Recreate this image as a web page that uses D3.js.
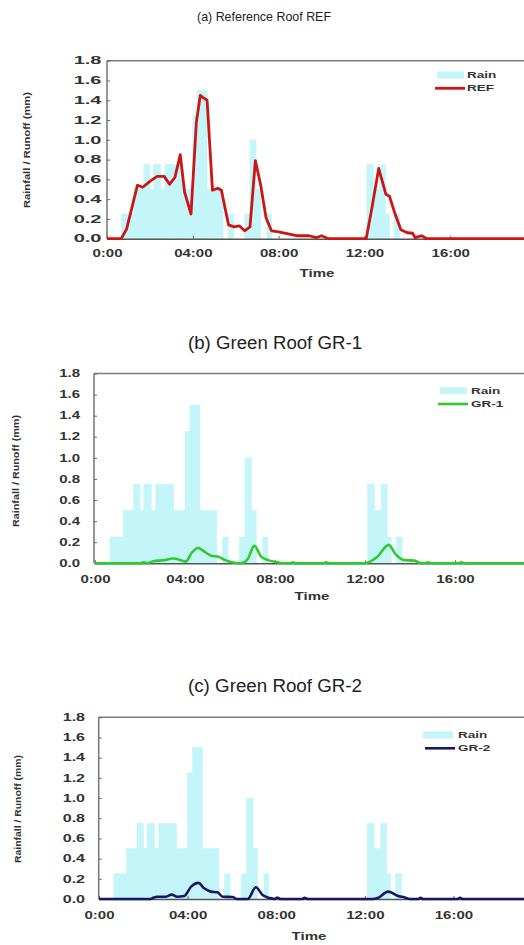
<!DOCTYPE html>
<html><head><meta charset="utf-8">
<script src="https://cdn.jsdelivr.net/npm/d3@7"></script>
<style>html,body{margin:0;padding:0;background:#fff;overflow:hidden;} svg{display:block;}</style>
</head><body>
<svg id="chart" width="524" height="945"></svg>
<script>
// ---------------- DATA ----------------
const tickMinutes = [0, 240, 480, 720, 960];
const tickLabels = ["0:00", "04:00", "08:00", "12:00", "16:00"];
const yTickValues = [0, 0.2, 0.4, 0.6, 0.8, 1.0, 1.2, 1.4, 1.6, 1.8];
const panelTitles = ["(a) Reference Roof REF", "(b) Green Roof GR-1", "(c) Green Roof GR-2"];
const seriesNames = ["REF", "GR-1", "GR-2"];
const axisTitleX = "Time";
const axisTitleY = "Rainfall / Runoff (mm)";
const rainName = "Rain";

// Rainfall as step levels: level rainStepVal[i] holds from rainStepMin[i] to rainStepMin[i+1]
const rainStepMin = [0, 40, 75, 103, 120, 130, 150, 162, 210, 240, 253, 280, 325, 340, 355, 385, 400, 417, 430, 447, 460, 727, 745, 763, 779, 790, 803, 819];
const rainStepVal = [0, 0.25, 0.5, 0.75, 0.5, 0.75, 0.5, 0.75, 0.5, 1.25, 1.5, 0.5, 0, 0.25, 0, 0.25, 1.0, 0.5, 0, 0.25, 0, 0.75, 0.5, 0.75, 0.25, 0, 0.25, 0];

// Runoff series (time in minutes, value in mm)
const refMin = [0, 40, 55, 85, 100, 120, 140, 160, 175, 190, 205, 217, 235, 250, 261, 268, 280, 295, 310, 320, 340, 355, 370, 385, 400, 415, 430, 445, 460, 480, 500, 530, 565, 585, 600, 620, 725, 740, 760, 780, 790, 805, 822, 840, 855, 862, 880, 895, 1200];
const refVal = [0, 0, 0.1, 0.54, 0.52, 0.58, 0.63, 0.63, 0.55, 0.62, 0.85, 0.47, 0.25, 1.18, 1.45, 1.43, 1.4, 0.49, 0.51, 0.49, 0.14, 0.12, 0.13, 0.08, 0.12, 0.79, 0.54, 0.21, 0.08, 0.07, 0.055, 0.03, 0.03, 0.01, 0.03, 0, 0, 0.29, 0.71, 0.45, 0.43, 0.26, 0.09, 0.06, 0.055, 0.01, 0.03, 0, 0];

const gr1Min = [0, 120, 130, 140, 155, 185, 207, 229, 242, 258, 275, 292, 310, 329, 347, 371, 389, 407, 425, 443, 461, 487, 500, 520, 527, 535, 610, 616, 625, 718, 753, 783, 803, 825, 851, 865, 880, 887, 895, 970, 976, 985, 1200];
const gr1Val = [0, 0, 0.01, 0, 0.02, 0.03, 0.045, 0.03, 0.015, 0.10, 0.145, 0.11, 0.072, 0.063, 0.03, 0.005, 0, 0.04, 0.165, 0.063, 0.03, 0.01, 0, 0, 0.01, 0, 0, 0.01, 0, 0, 0.063, 0.175, 0.08, 0.03, 0.025, 0.005, 0, 0.01, 0, 0, 0.01, 0, 0];

const gr2Min = [0, 140, 147, 158, 181, 197, 212, 231, 249, 269, 285, 303, 321, 335, 362, 373, 403, 425, 443, 462, 475, 484, 492, 550, 557, 565, 740, 755, 783, 810, 828, 842, 865, 871, 878, 972, 978, 985, 1200];
const gr2Val = [0, 0, 0.013, 0.023, 0.023, 0.043, 0.023, 0.03, 0.12, 0.16, 0.106, 0.073, 0.066, 0.023, 0.02, 0, 0, 0.116, 0.04, 0.01, 0, 0.013, 0, 0, 0.013, 0, 0, 0.01, 0.073, 0.03, 0.016, 0, 0, 0.013, 0, 0, 0.013, 0, 0];

const xDomainMin = [0, 1200];
const yDomain = [0, 1.8];

// ---------------- LAYOUT / STYLE ----------------
const rainColor = "#c4f6f9";
const seriesColors = ["#cc1616", "#2ecb2e", "#17176a"];
const seriesWidths = [2.8, 2.6, 2.6];
const seriesCurves = [d3.curveLinear, d3.curveMonotoneX, d3.curveMonotoneX];
const seriesData = [[refMin, refVal], [gr1Min, gr1Val], [gr2Min, gr2Val]];

const panels = [
  {left:107, x0:107, pxh:21.45, top:60.7, bottom:238.7, titleX:264, titleY:21, titleSize:12.8, titleLen:134,
   yPad:5.5, yStretch:2.0, yTitleX:27, yTitleY:150, yTitleLen:116, tickY:257.5, timeX:317, timeY:277,
   lg:{swX:437, swY:71.5, swW:27, swH:7, textX:467, rainY:75, lineY:88.3, lx1:435, lx2:465}},
  {left:94, x0:95, pxh:22.5, top:373.5, bottom:563.3, titleX:275, titleY:348.5, titleSize:17.5, titleLen:174,
   yPad:14, yStretch:1.5, yTitleX:16, yTitleY:471, yTitleLen:112, tickY:583, timeX:312, timeY:600,
   lg:{swX:440, swY:387.3, swW:27, swH:7, textX:471, rainY:390.7, lineY:404, lx1:438, lx2:468}},
  {left:98.7, x0:99, pxh:22.15, top:717.3, bottom:899, titleX:275, titleY:692, titleSize:17.5, titleLen:174,
   yPad:13.7, yStretch:1.6, yTitleX:18.5, yTitleY:809, yTitleLen:108, tickY:918.5, timeX:309, timeY:940,
   lg:{swX:423, swY:731.5, swW:30, swH:7, textX:458, rainY:735, lineY:748.3, lx1:425, lx2:455}}
];

const svg = d3.select("#chart");
const FONT = "'Liberation Sans', Arial, sans-serif";

function stretch(sel, factor) {
  sel.each(function() {
    const w = this.getComputedTextLength();
    d3.select(this).attr("textLength", w * factor).attr("lengthAdjust", "spacingAndGlyphs");
  });
}
function fitTo(sel, len) {
  sel.attr("textLength", len).attr("lengthAdjust", "spacingAndGlyphs");
}

panels.forEach((p, i) => {
  const g = svg.append("g");
  const x = d3.scaleLinear().domain(xDomainMin).range([p.x0, p.x0 + 20 * p.pxh]);
  const y = d3.scaleLinear().domain(yDomain).range([p.bottom, p.top]);
  const right = x(xDomainMin[1]);

  // Title
  g.append("text").attr("x", p.titleX).attr("y", p.titleY).attr("text-anchor", "middle")
    .attr("font-family", FONT).attr("font-size", p.titleSize).attr("fill", "#222")
    .text(panelTitles[i]).call(fitTo, p.titleLen);

  // Rain bars
  const rainBars = rainStepMin.map((t, k) => ({t0: t, t1: k < rainStepMin.length - 1 ? rainStepMin[k + 1] : t, v: rainStepVal[k]}))
    .filter(d => d.v > 0);
  g.append("g").selectAll("rect").data(rainBars).join("rect")
    .attr("x", d => x(d.t0)).attr("width", d => x(d.t1) - x(d.t0))
    .attr("y", d => y(d.v)).attr("height", d => y(0) - y(d.v))
    .attr("fill", rainColor).attr("stroke", rainColor).attr("stroke-width", 0.6);

  // Frame
  g.append("line").attr("x1", p.left).attr("x2", right).attr("y1", p.top).attr("y2", p.top)
    .attr("stroke", "#7d7d7d").attr("stroke-width", 1.6);
  g.append("line").attr("x1", p.left).attr("x2", p.left).attr("y1", p.top).attr("y2", p.bottom)
    .attr("stroke", "#7d7d7d").attr("stroke-width", 1.6);
  g.append("line").attr("x1", right).attr("x2", right).attr("y1", p.top).attr("y2", p.bottom)
    .attr("stroke", "#7d7d7d").attr("stroke-width", 1.6);

  // Y axis
  const yAxis = d3.axisLeft(y).tickValues(yTickValues).tickFormat(d3.format(".1f"))
    .tickSizeInner(-3).tickSizeOuter(0).tickPadding(p.yPad);
  const yg = g.append("g").attr("transform", `translate(${p.left},0)`).call(yAxis);
  yg.select(".domain").remove();
  yg.selectAll(".tick line").attr("stroke", "#666");
  yg.selectAll(".tick text").attr("font-family", FONT).attr("font-weight", "bold")
    .attr("font-size", 10).attr("fill", "#333").call(stretch, p.yStretch);

  // X axis
  const xAxis = d3.axisBottom(x).tickValues(tickMinutes).tickFormat((d, k) => tickLabels[k])
    .tickSizeInner(-3).tickSizeOuter(0).tickPadding(0);
  const xg = g.append("g").attr("transform", `translate(0,${p.bottom})`).call(xAxis);
  xg.select(".domain").attr("stroke", "#555").attr("stroke-width", 1.6);
  xg.selectAll(".tick line").attr("stroke", "#666");
  xg.selectAll(".tick text").attr("y", p.tickY - p.bottom).attr("dy", 0)
    .attr("font-family", FONT).attr("font-weight", "bold").attr("font-size", 10).attr("fill", "#333")
    .call(stretch, 1.5);

  // Axis titles
  g.append("text").attr("x", p.timeX).attr("y", p.timeY).attr("text-anchor", "middle")
    .attr("font-family", FONT).attr("font-weight", "bold").attr("font-size", 10).attr("fill", "#333")
    .text(axisTitleX).call(stretch, 1.5);
  g.append("text").attr("transform", `translate(${p.yTitleX},${p.yTitleY}) rotate(-90)`)
    .attr("text-anchor", "middle").attr("dy", "0.35em")
    .attr("font-family", FONT).attr("font-weight", "bold").attr("font-size", 8.5).attr("fill", "#333")
    .text(axisTitleY).call(fitTo, p.yTitleLen);

  // Runoff line
  const [tm, vals] = seriesData[i];
  const pts = tm.map((t, k) => [t, vals[k]]);
  const line = d3.line().x(d => x(d[0])).y(d => y(d[1])).curve(seriesCurves[i]);
  g.append("path").datum(pts).attr("d", line).attr("fill", "none")
    .attr("stroke", seriesColors[i]).attr("stroke-width", seriesWidths[i]).attr("stroke-linejoin", "round");

  // Legend
  const lg = p.lg;
  g.append("rect").attr("x", lg.swX).attr("y", lg.swY).attr("width", lg.swW).attr("height", lg.swH).attr("fill", rainColor);
  g.append("text").attr("x", lg.textX).attr("y", lg.rainY).attr("dy", "0.35em")
    .attr("font-family", FONT).attr("font-weight", "bold").attr("font-size", 9).attr("fill", "#333")
    .text(rainName).call(stretch, 1.5);
  g.append("line").attr("x1", lg.lx1).attr("x2", lg.lx2).attr("y1", lg.lineY).attr("y2", lg.lineY)
    .attr("stroke", seriesColors[i]).attr("stroke-width", seriesWidths[i]);
  g.append("text").attr("x", lg.textX).attr("y", lg.lineY).attr("dy", "0.35em")
    .attr("font-family", FONT).attr("font-weight", "bold").attr("font-size", 9).attr("fill", "#333")
    .text(seriesNames[i]).call(stretch, 1.5);
});
</script>
</body></html>
